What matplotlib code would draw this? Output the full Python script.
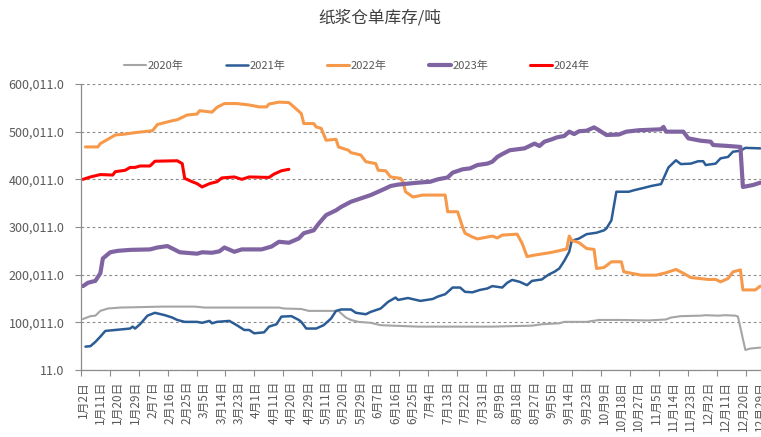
import matplotlib
matplotlib.use("Agg")
import matplotlib.pyplot as plt
from matplotlib.ticker import FixedLocator, FuncFormatter

plt.rcParams['font.family'] = ['Noto Sans CJK SC', 'DejaVu Sans']

title = "纸浆仓单库存/吨"

tick_labels = ["1月2日", "1月11日", "1月20日", "1月29日", "2月7日", "2月16日", "2月25日",
               "3月5日", "3月14日", "3月23日", "4月1日", "4月11日", "4月20日", "4月29日",
               "5月11日", "5月20日", "5月29日", "6月7日", "6月16日", "6月25日", "7月4日",
               "7月13日", "7月22日", "7月31日", "8月9日", "8月18日", "8月27日", "9月5日",
               "9月14日", "9月23日", "10月9日", "10月18日", "10月27日", "11月5日", "11月14日",
               "11月23日", "12月2日", "12月11日", "12月20日", "12月29日"]

# trading-day index of each reading, and the reading (tonnes)
x_2020 = [0, 3, 5, 7, 10, 15, 32, 45, 49, 79, 81, 88, 91, 103, 104, 106, 108, 111, 116, 120,
          130, 135, 165, 181, 185, 192, 194, 203, 208, 216, 228, 235, 237, 241, 249, 251, 256,
          259, 263, 264, 267, 269, 273]
y_2020 = [107000, 113000, 114000, 124000, 129000, 131000, 133000, 133000, 131000, 131000,
          129000, 128000, 124000, 124000, 119000, 110000, 105000, 101000, 99000, 94000,
          92000, 91000, 91000, 93000, 96000, 98000, 101000, 101000, 105000, 105000,
          104000, 106000, 110000, 113000, 114000, 115000, 114000, 115000, 114000, 112000,
          42000, 45000, 47000]

x_2021 = [1, 3, 5, 7, 9, 13, 19, 20, 21, 23, 26, 29, 33, 36, 38, 41, 46, 48, 51, 52, 54, 59,
          62, 65, 67, 69, 73, 75, 78, 80, 84, 87, 88, 90, 94, 97, 100, 102, 104, 108, 110, 114,
          116, 120, 123, 126, 127, 131, 136, 141, 143, 146, 149, 152, 154, 157, 160, 163, 165,
          169, 171, 173, 176, 179, 181, 185, 186, 188, 190, 192, 194, 196, 197, 200, 203, 207,
          210, 211, 213, 215, 220, 222, 226, 229, 233, 236, 239, 241, 245, 248, 250, 251, 255,
          257, 260, 262, 265, 267, 273]
y_2021 = [49000, 50000, 59000, 70000, 82000, 84000, 87000, 91000, 87000, 96000, 114000,
          120000, 115000, 110000, 105000, 101000, 101000, 99000, 103000, 98000, 101000,
          103000, 94000, 84000, 84000, 77000, 79000, 91000, 96000, 112000, 113000, 105000,
          101000, 87000, 87000, 94000, 108000, 124000, 127000, 127000, 120000, 117000,
          122000, 129000, 143000, 152000, 147000, 151000, 145000, 149000, 154000, 159000,
          173000, 173000, 164000, 163000, 168000, 171000, 176000, 173000, 183000, 189000,
          185000, 178000, 187000, 190000, 194000, 201000, 206000, 213000, 229000, 248000,
          271000, 276000, 285000, 288000, 293000, 297000, 314000, 374000, 374000, 377000,
          382000, 386000, 390000, 425000, 440000, 432000, 433000, 438000, 438000, 430000,
          433000, 444000, 447000, 458000, 460000, 466000, 465000]

x_2022 = [1, 6, 7, 10, 13, 17, 21, 28, 30, 36, 38, 42, 46, 47, 52, 54, 57, 62, 67, 71, 74, 75,
          79, 83, 85, 88, 89, 93, 94, 96, 98, 102, 103, 107, 108, 112, 114, 118, 119, 122, 124,
          128, 129, 130, 133, 137, 146, 147, 151, 153, 154, 157, 159, 165, 167, 169, 175, 177,
          179, 182, 188, 190, 195, 196, 197, 200, 203, 206, 207, 210, 213, 217, 218, 225, 231,
          235, 239, 242, 245, 252, 255, 257, 260, 262, 265, 266, 271, 273]
y_2022 = [468000, 468000, 475000, 484000, 493000, 495000, 498000, 502000, 515000, 523000,
          525000, 535000, 537000, 544000, 541000, 551000, 559000, 559000, 556000, 552000,
          552000, 558000, 562000, 561000, 552000, 538000, 517000, 517000, 510000, 507000,
          482000, 484000, 468000, 461000, 456000, 451000, 437000, 433000, 419000, 418000,
          405000, 402000, 395000, 374000, 363000, 367000, 367000, 332000, 332000, 300000,
          287000, 279000, 275000, 281000, 277000, 283000, 285000, 266000, 238000, 241000,
          246000, 248000, 254000, 281000, 272000, 267000, 255000, 253000, 213000, 215000,
          227000, 227000, 206000, 199000, 199000, 204000, 211000, 203000, 194000, 190000,
          190000, 185000, 192000, 206000, 210000, 168000, 168000, 176000]

x_2023 = [0, 2, 5, 7, 8, 11, 14, 19, 27, 30, 34, 36, 39, 46, 48, 52, 55, 57, 61, 64, 72, 76, 79,
          83, 87, 89, 93, 95, 98, 102, 104, 108, 112, 116, 119, 122, 124, 127, 131, 135, 140,
          143, 147, 149, 153, 156, 159, 163, 165, 167, 169, 172, 178, 182, 184, 186, 189, 191,
          194, 196, 198, 200, 203, 206, 208, 211, 216, 219, 224, 233, 234, 235, 242, 244, 249,
          253, 254, 260, 265, 266, 270, 273]
y_2023 = [176000, 183000, 187000, 203000, 234000, 247000, 250000, 252000, 253000, 257000,
          260000, 255000, 247000, 244000, 247000, 246000, 249000, 257000, 248000, 253000,
          253000, 259000, 269000, 267000, 276000, 287000, 293000, 307000, 325000, 335000,
          342000, 353000, 360000, 367000, 374000, 381000, 386000, 389000, 391000, 393000,
          395000, 400000, 404000, 414000, 421000, 423000, 430000, 433000, 437000, 447000,
          453000, 461000, 465000, 475000, 470000, 479000, 484000, 488000, 491000, 500000,
          495000, 501000, 502000, 509000, 503000, 493000, 494000, 500000, 503000, 505000,
          510000, 500000, 500000, 486000, 481000, 479000, 472000, 470000, 468000, 384000,
          388000, 393000]

x_2024 = [0, 3, 7, 12, 13, 17, 19, 21, 23, 27, 29, 38, 40, 41, 44, 46, 48, 51, 54, 56, 61, 64,
          67, 75, 77, 80, 83]
y_2024 = [400000, 405000, 410000, 409000, 416000, 419000, 425000, 425000, 428000, 428000,
          438000, 439000, 433000, 402000, 395000, 391000, 384000, 391000, 395000, 403000,
          405000, 400000, 405000, 404000, 411000, 418000, 421000]

y_ticks = [11, 100011, 200011, 300011, 400011, 500011, 600011]

series = [
    ("2020年", x_2020, y_2020, "#A5A5A5", 1.5),
    ("2021年", x_2021, y_2021, "#2B5C95", 1.8),
    ("2022年", x_2022, y_2022, "#F7994A", 2.2),
    ("2023年", x_2023, y_2023, "#8064A2", 3.0),
    ("2024年", x_2024, y_2024, "#FF0000", 2.2),
]

W, H = 761, 437
fig = plt.figure(figsize=(W / 100, H / 100), dpi=100)
ax = fig.add_axes([81 / W, (H - 370) / H, (W - 81) / W, (370 - 84) / H])

for name, xs, ys, color, lw in series:
    ax.plot(xs, ys, color=color, lw=lw, label=name, solid_joinstyle='round',
            solid_capstyle='round')

ax.set_ylim(11, 600011)
ax.set_xlim(-0.8, 273.3)
ax.yaxis.set_major_locator(FixedLocator(y_ticks))
ax.yaxis.set_major_formatter(FuncFormatter(lambda v, p: f"{v:,.1f}"))
ax.grid(axis='y', color='#8C8C8C', linestyle=(0, (2.5, 2.5)), linewidth=0.8)

label_pos = [7 * i for i in range(len(tick_labels))]
ax.set_xticks(label_pos)
ax.set_xticklabels(tick_labels, rotation=90, fontsize=8.5, color='#595959')
ax.tick_params(axis='x', which='major', length=0, pad=8)
minor = [-0.8 + 11.648 * k for k in range(24)]
ax.xaxis.set_minor_locator(FixedLocator(minor))
ax.tick_params(axis='x', which='minor', length=4, width=0.8, color='#8C8C8C', direction='out')
ax.tick_params(axis='y', length=4, width=0.8, color='#8C8C8C', labelsize=9,
               labelcolor='#595959', pad=8)

for s in ['top', 'right']:
    ax.spines[s].set_visible(False)
for s in ['left', 'bottom']:
    ax.spines[s].set_color('#8C8C8C')
    ax.spines[s].set_linewidth(0.9)

fig.text(380 / W, 1 - 18 / H, title, ha='center', va='center', fontsize=12, color='#404040')

leg = fig.legend(loc='center', bbox_to_anchor=(357 / W, 1 - 66 / H), ncol=5, frameon=False,
                 fontsize=8, handlelength=2.0, handletextpad=0.15, columnspacing=3.75,
                 labelcolor='#595959')

fig.savefig("out.png", dpi=100)
